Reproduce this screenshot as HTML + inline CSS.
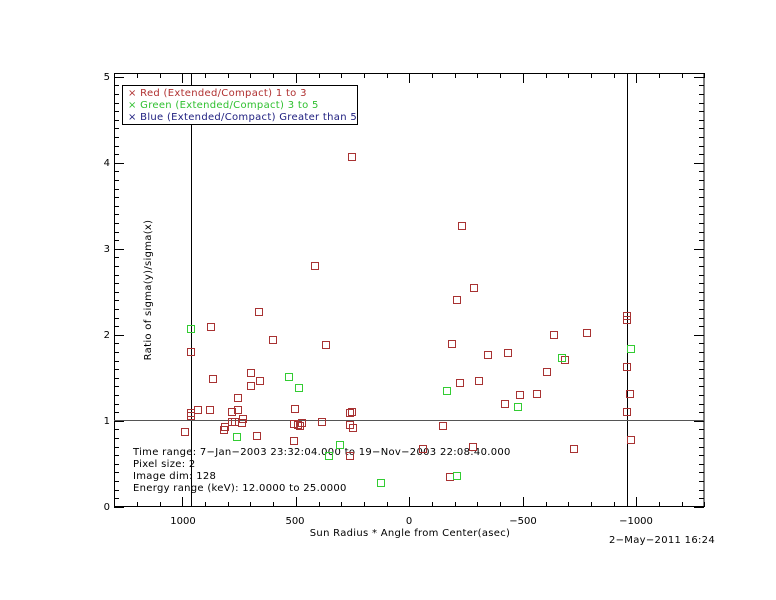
<!DOCTYPE html>
<html><head><style>body{margin:0;background:#fff}svg{display:block}text{font-family:"DejaVu Sans","Liberation Sans",sans-serif;font-size:10px}.w{letter-spacing:0.3px}</style></head>
<body>
<svg width="776" height="600" xmlns="http://www.w3.org/2000/svg">
<rect width="776" height="600" fill="#fff"/>
<rect x="114.5" y="73.5" width="589.5" height="433" fill="none" stroke="#000"/>
<g id="ticks" stroke="#000" stroke-width="1"></g>
<line x1="191.5" y1="73" x2="191.5" y2="507" stroke="#000"/>
<line x1="627.5" y1="73" x2="627.5" y2="507" stroke="#000"/>
<line x1="114" y1="420.5" x2="704" y2="420.5" stroke="#555"/>
<g fill="#000" text-anchor="end">
<text x="110" y="510">0</text><text x="110" y="424">1</text><text x="110" y="338">2</text><text x="110" y="252">3</text><text x="110" y="166">4</text><text x="110" y="80">5</text>
</g>
<g fill="#000" text-anchor="middle">
<text x="183" y="524">1000</text><text x="295" y="524">500</text><text x="409" y="524">0</text><text x="523" y="524">−500</text><text x="636" y="524">−1000</text>
<text x="410" y="536" class="w">Sun Radius * Angle from Center(asec)</text>
<text transform="translate(151,290) rotate(-90)" class="w">Ratio of sigma(y)/sigma(x)</text>
</g>
<text x="715" y="543" text-anchor="end" fill="#000" class="w">2−May−2011 16:24</text>
<rect x="122.5" y="85.5" width="235" height="39" fill="#fff" stroke="#000"/>
<g class="w">
<text x="128" y="96" fill="#b03030">× Red (Extended/Compact) 1 to 3</text>
<text x="128" y="108" fill="#30c030">× Green (Extended/Compact) 3 to 5</text>
<text x="128" y="120" fill="#202080">× Blue (Extended/Compact) Greater than 5</text>
</g>
<g fill="#000" class="w">
<text x="133" y="455">Time range:  7−Jan−2003 23:32:04.000 to 19−Nov−2003 22:08:40.000</text>
<text x="133" y="467">Pixel size: 2</text>
<text x="133" y="479">Image dim: 128</text>
<text x="133" y="491">Energy range (keV): 12.0000 to 25.0000</text>
</g>
<g id="pts" fill="none" stroke-width="1"></g>
<script>
var ns="http://www.w3.org/2000/svg",T=document.getElementById("ticks");
function L(a,b,c,d){var l=document.createElementNS(ns,"line");l.setAttribute("x1",a);l.setAttribute("y1",b);l.setAttribute("x2",c);l.setAttribute("y2",d);T.appendChild(l);}
for(var v=1300;v>=-1300;v-=100){var x=Math.round(409.3-0.227*v)+0.5;var m=(v%500==0)?10:5;L(x,507,x,507-m);L(x,73,x,73+m);}
for(var i=0;i<=50;i++){var y=Math.round(506.7-8.6*i)+0.5;var m=(i%10==0)?10:5;L(114,y,114+m,y);L(704,y,704-m,y);}
var R=[[185,432],[191,413],[191,416],[191,352],[198,410],[211,327],[213,379],[210,410],[224,430],[225,427],[232,412],[232,422],[235,422],[238,410],[238,398],[242,423],[243,419],[251,386],[251,373],[259,312],[257,436],[260,381],[273,340],[294,424],[294,441],[295,409],[298,425],[300,426],[302,423],[322,422],[326,345],[350,425],[350,413],[350,456],[352,412],[353,428],[352,157],[315,266],[443,426],[450,477],[452,344],[457,300],[460,383],[462,226],[474,288],[473,447],[479,381],[488,355],[505,404],[508,353],[520,395],[537,394],[547,372],[554,335],[565,360],[574,449],[587,333],[627,316],[627,320],[627,367],[627,412],[630,394],[631,440],[423,449]];
var G=[[191,329],[237,437],[289,377],[299,388],[329,456],[340,445],[381,483],[447,391],[457,476],[518,407],[562,358],[631,349]];
var P=document.getElementById("pts");
function S(a,c){a.forEach(function(p){var r=document.createElementNS(ns,"rect");r.setAttribute("x",p[0]-3.5);r.setAttribute("y",p[1]-3.5);r.setAttribute("width",7);r.setAttribute("height",7);r.setAttribute("stroke",c);P.appendChild(r);});}
S(R,"#a83232");S(G,"#33cc33");
</script>
</svg>
</body></html>
